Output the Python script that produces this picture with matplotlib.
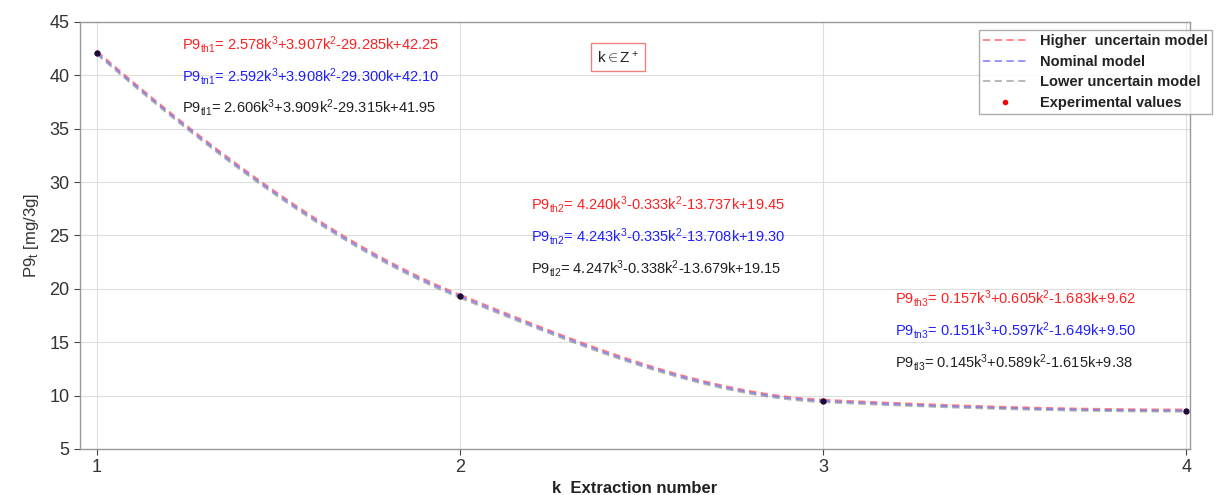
import numpy as np
import matplotlib
matplotlib.use("Agg")
import matplotlib.pyplot as plt

# Experimental points
k_exp = [1, 2, 3, 4]
p9_exp = [42.10, 19.30, 9.50, 8.60]

# Cubic coefficients per segment (local k in [0,1]) : a k^3 + b k^2 + c k + d
coef_high = [[2.578, 3.907, -29.285, 42.25],
             [4.240, -0.333, -13.737, 19.45],
             [0.157, 0.605, -1.683, 9.62]]
coef_nom = [[2.592, 3.908, -29.300, 42.10],
            [4.243, -0.335, -13.708, 19.30],
            [0.151, 0.597, -1.649, 9.50]]
coef_low = [[2.606, 3.909, -29.315, 41.95],
            [4.247, -0.338, -13.679, 19.15],
            [0.145, 0.589, -1.615, 9.38]]
seg_start = [1, 2, 3]

# Equation labels
eq_high = [r"P9$_{\rm th1}$= 2.578k$^3$+3.907k$^2$-29.285k+42.25",
           r"P9$_{\rm th2}$= 4.240k$^3$-0.333k$^2$-13.737k+19.45",
           r"P9$_{\rm th3}$= 0.157k$^3$+0.605k$^2$-1.683k+9.62"]
eq_nom = [r"P9$_{\rm tn1}$= 2.592k$^3$+3.908k$^2$-29.300k+42.10",
          r"P9$_{\rm tn2}$= 4.243k$^3$-0.335k$^2$-13.708k+19.30",
          r"P9$_{\rm tn3}$= 0.151k$^3$+0.597k$^2$-1.649k+9.50"]
eq_low = [r"P9$_{\rm tl1}$= 2.606k$^3$+3.909k$^2$-29.315k+41.95",
          r"P9$_{\rm tl2}$= 4.247k$^3$-0.338k$^2$-13.679k+19.15",
          r"P9$_{\rm tl3}$= 0.145k$^3$+0.589k$^2$-1.615k+9.38"]
eq_x = [1.235, 2.196, 3.199]
eq_y = [[42.9, 39.9, 37.0], [27.9, 24.9, 21.9], [19.1, 16.1, 13.1]]

plt.rcParams['font.family'] = ['Liberation Sans', 'DejaVu Sans']
plt.rcParams['mathtext.fontset'] = 'custom'
plt.rcParams['mathtext.rm'] = 'Liberation Sans'
plt.rcParams['mathtext.it'] = 'Liberation Sans'

fig = plt.figure(figsize=(12.17, 4.95), dpi=100)
ax = fig.add_axes([0.0657, 0.093, 0.912, 0.8626])

def draw(coefs, color, label, alpha):
    first = True
    for s, c in zip(seg_start, coefs):
        t = np.linspace(0, 1, 100)
        ax.plot(s + t, np.polyval(c, t), ls=(0, (4, 2.5)), color=color, lw=1.3,
                alpha=alpha, label=label if first else None)
        first = False

draw(coef_high, '#ff6f6f', 'Higher  uncertain model', 0.9)
draw(coef_nom, '#7070ff', 'Nominal model', 0.8)
draw(coef_low, '#808080', 'Lower uncertain model', 0.6)
ax.plot(k_exp, p9_exp, 'o', color='red', ms=3, label='Experimental values', ls='none')
ax.plot(k_exp, p9_exp, 'o', color='#1a0a3a', ms=3.5, ls='none')

fs_eq = 10.5
for i in range(3):
    ax.text(eq_x[i], eq_y[i][0], eq_high[i], color='#ff2020', fontsize=fs_eq, va='center')
    ax.text(eq_x[i], eq_y[i][1], eq_nom[i], color='#2020ff', fontsize=fs_eq, va='center')
    ax.text(eq_x[i], eq_y[i][2], eq_low[i], color='#222222', fontsize=fs_eq, va='center')

ax.text(2.436, 41.7, r"k$\in$Z$^+$", fontsize=11, ha='center', va='center', color='#222222',
        bbox=dict(boxstyle='square,pad=0.4', fc='white', ec='#f08080', lw=1))

ax.set_xlim(0.953, 4.01)
ax.set_ylim(5, 45)
ax.set_xticks([1, 2, 3, 4])
ax.set_yticks(range(5, 46, 5))
ax.grid(True, color='#dddddd', lw=0.8)
ax.tick_params(labelsize=13, colors='#444444', length=4, labelcolor='#333333')
for sp in ax.spines.values():
    sp.set_color('#999999')
    sp.set_linewidth(1.0)

ax.set_ylabel(r"P9$_{\rm t}$ [mg/3g]", fontsize=12, color='#333333', labelpad=6)
ax.set_xlabel("k  Extraction number", fontsize=12, color='#222222',
              fontweight='bold', labelpad=3)

leg = fig.legend(*ax.get_legend_handles_labels(), loc='upper right', fontsize=10.5,
                 frameon=True, fancybox=False, edgecolor='#999999', handlelength=3.0,
                 borderpad=0.3, labelspacing=0.45, handletextpad=0.9, borderaxespad=0,
                 bbox_to_anchor=(1212 / 1217, 1 - 30 / 495))
for t in leg.get_texts():
    t.set_fontweight('bold')
    t.set_color('#222222')

fig.savefig('out.png', dpi=100)
